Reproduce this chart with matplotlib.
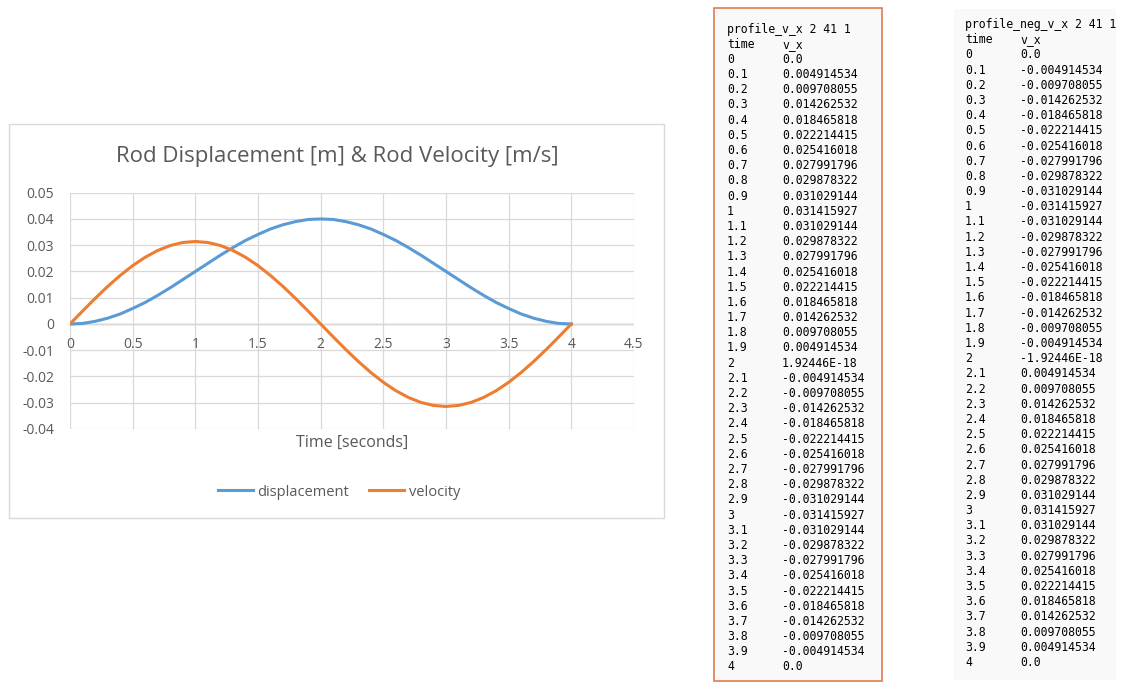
import numpy as np
import matplotlib
matplotlib.use('Agg')
import matplotlib.pyplot as plt
from matplotlib.patches import Rectangle

W, H = 1140, 691

# dane z tabeli (profile_v_x)
czas = ['0', '0.1', '0.2', '0.3', '0.4', '0.5', '0.6', '0.7', '0.8', '0.9',
        '1', '1.1', '1.2', '1.3', '1.4', '1.5', '1.6', '1.7', '1.8', '1.9',
        '2', '2.1', '2.2', '2.3', '2.4', '2.5', '2.6', '2.7', '2.8', '2.9',
        '3', '3.1', '3.2', '3.3', '3.4', '3.5', '3.6', '3.7', '3.8', '3.9', '4']
v_x = ['0.0', '0.004914534', '0.009708055', '0.014262532', '0.018465818',
       '0.022214415', '0.025416018', '0.027991796', '0.029878322', '0.031029144',
       '0.031415927', '0.031029144', '0.029878322', '0.027991796', '0.025416018',
       '0.022214415', '0.018465818', '0.014262532', '0.009708055', '0.004914534',
       '1.92446E-18', '-0.004914534', '-0.009708055', '-0.014262532', '-0.018465818',
       '-0.022214415', '-0.025416018', '-0.027991796', '-0.029878322', '-0.031029144',
       '-0.031415927', '-0.031029144', '-0.029878322', '-0.027991796', '-0.025416018',
       '-0.022214415', '-0.018465818', '-0.014262532', '-0.009708055', '-0.004914534',
       '0.0']
neg_v_x = ['0.0'] + [s[1:] if s.startswith('-') else '-' + s for s in v_x[1:-1]] + ['0.0']

# przemieszczenie
displacement = [0.0000, 0.0002, 0.0010, 0.0022, 0.0038, 0.0059, 0.0082, 0.0109, 0.0138, 0.0169,
                0.0200, 0.0231, 0.0262, 0.0291, 0.0318, 0.0341, 0.0362, 0.0378, 0.0390, 0.0398,
                0.0400, 0.0398, 0.0390, 0.0378, 0.0362, 0.0341, 0.0318, 0.0291, 0.0262, 0.0231,
                0.0200, 0.0169, 0.0138, 0.0109, 0.0082, 0.0059, 0.0038, 0.0022, 0.0010, 0.0002,
                0.0000]

t = [float(s) for s in czas]
velocity = [float(s) for s in v_x]

x_ticks = [0, 0.5, 1, 1.5, 2, 2.5, 3, 3.5, 4, 4.5]
x_labels = ['0', '0.5', '1', '1.5', '2', '2.5', '3', '3.5', '4', '4.5']
y_ticks = [-0.04, -0.03, -0.02, -0.01, 0, 0.01, 0.02, 0.03, 0.04, 0.05]
y_labels = ['-0.04', '-0.03', '-0.02', '-0.01', '0', '0.01', '0.02', '0.03', '0.04', '0.05']

grey = '#595959'
fig = plt.figure(figsize=(W / 100, H / 100), dpi=100)

# tło w pikselach
bg = fig.add_axes([0, 0, 1, 1])
bg.set_xlim(0, W)
bg.set_ylim(H, 0)
bg.axis('off')

bg.add_patch(Rectangle((9, 124), 655, 394, facecolor='white', edgecolor='#d9d9d9', lw=1))
bg.text(337, 156, 'Rod Displacement [m] & Rod Velocity [m/s]', fontsize=16, color=grey,
        ha='center', va='center', family='Open Sans')
bg.text(352, 443, 'Time [seconds]', fontsize=11.5, color=grey,
        ha='center', va='center', family='Open Sans')

# panele tekstowe
mono = 'DejaVu Sans Mono'
fs = 8.3
ink = '#000000'
bg.add_patch(Rectangle((714, 8), 168, 673, facecolor='#f9f9f9', edgecolor='#e07b4e', lw=1.2))
bg.add_patch(Rectangle((954, 9), 162, 671, facecolor='#f9f9f9', edgecolor='none'))

def panel(x0, x1, y0, title, vals):
    step = 15.19
    bg.text(x0, y0, title, fontsize=fs, family=mono, color=ink, va='center')
    bg.text(x0, y0 + step, 'time', fontsize=fs, family=mono, color=ink, va='center')
    bg.text(x1, y0 + step, 'v_x', fontsize=fs, family=mono, color=ink, va='center')
    for i, (c, v) in enumerate(zip(czas, vals)):
        y = y0 + (i + 2) * step
        bg.text(x0, y, c, fontsize=fs, family=mono, color=ink, va='center')
        bg.text(x1, y, v, fontsize=fs, family=mono, color=ink, va='center')

panel(727, 782, 29, 'profile_v_x 2 41 1', v_x)
panel(965, 1020, 24.5, 'profile_neg_v_x 2 41 1', neg_v_x)

# wykres
l, r, top, bot = 70, 634, 192.7, 429
ax = fig.add_axes([l / W, 1 - bot / H, (r - l) / W, (bot - top) / H])
ax.patch.set_alpha(0)
ax.plot(t, displacement, color='#5b9bd5', lw=2.2, label='displacement', zorder=3)
ax.plot(t, velocity, color='#ed7d31', lw=2.2, label='velocity', zorder=3)
ax.set_xlim(0, 4.5)
ax.set_ylim(-0.04, 0.05)
ax.set_xticks(x_ticks)
ax.set_yticks(y_ticks)
ax.set_yticklabels(y_labels, family='Open Sans', fontsize=10, color=grey)
ax.tick_params(axis='x', labelbottom=False, length=0)
ax.tick_params(axis='y', length=0, pad=11.5)
ax.grid(True, color='#d9d9d9', lw=0.9, zorder=0)
ax.axhline(0, color='#bfbfbf', lw=1, zorder=1.5)
for s in ax.spines.values():
    s.set_visible(False)
for xt, lab in zip(x_ticks, x_labels):
    ax.annotate(lab, (xt, 0), xytext=(0, -15), textcoords='offset points',
                ha='center', va='center', fontsize=10, color=grey, family='Open Sans',
                annotation_clip=False)

leg = ax.legend(loc='center', bbox_to_anchor=(339 / W, 1 - 492 / H), bbox_transform=fig.transFigure,
                ncol=2, frameon=False, handlelength=2.4, handletextpad=0.3, columnspacing=1.4,
                prop={'family': 'Open Sans', 'size': 10.5})
for txt in leg.get_texts():
    txt.set_color(grey)

fig.savefig('out.png', dpi=100)
